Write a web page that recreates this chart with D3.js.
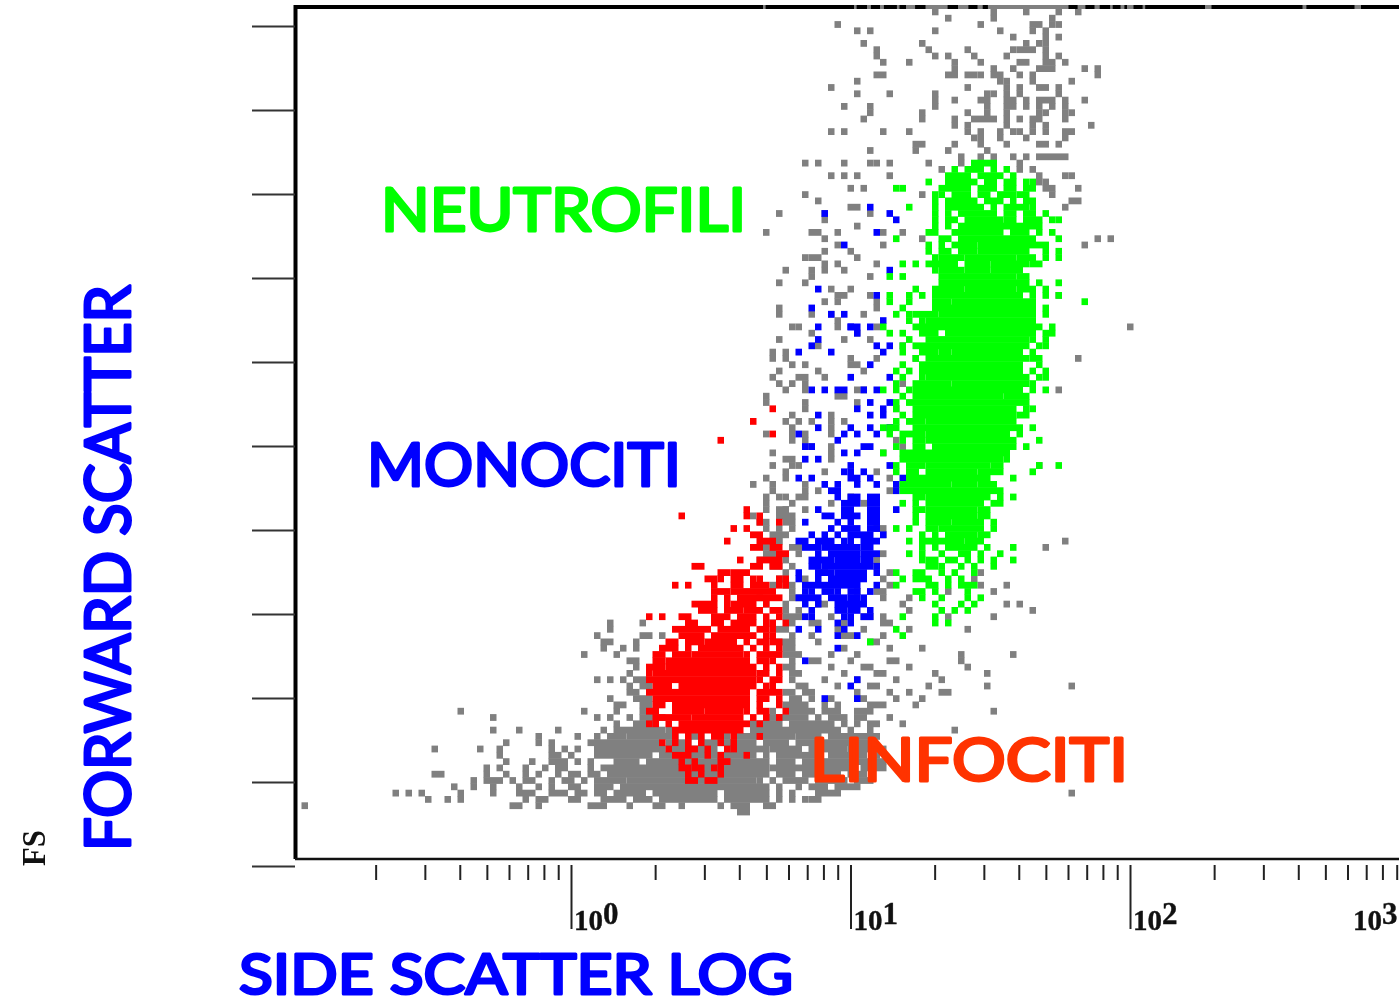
<!DOCTYPE html>
<html>
<head>
<meta charset="utf-8">
<title>Forward scatter / side scatter</title>
<script src="https://d3js.org/d3.v7.min.js"></script>
<style>
  html, body { margin: 0; padding: 0; background: #fff; }
  svg { display: block; filter: blur(0.5px); }
</style>
</head>
<body>
<svg id="plot" width="1399" height="1006"></svg>
<script>
// Events, per FS channel row:
// [fsChannel, ssChannel, ssChannel, [ssFrom, ssTo], ...]
var grayRows = [
  [134,98,107,112,117,120],[133,100,107,116],[132,83,105,[113,114],116,117],[131,86,88,98,108,113,115],
  [130,110,115,117],[129,87,96,112,114,115],[128,89,97,103,110,[111,113],115],[127,89,98,100,104,109,115,117],
  [126,90,94,101,105,[111,112],[115,116],118],[125,101,107,110,[114,116],121,123],[124,[89,90],[100,101],103,104,105,107,108,111,113,123],
  [123,86,108,109,113,119],[122,82,103,109,111,[114,115],117],[121,86,91,98,106,107,109,111,117],
  [120,98,101,[105,106],[109,110],112,[114,115],116,118,121],[119,84,88,98,106,[109,110],112,114,116,118],
  [118,88,96,103,106,109,114,115,118,119],[117,87,96,101,[104,107],109,111,113,114,118],[116,101,103,109,113,115,122],
  [115,82,84,90,94,103,105,108,110,111,113,115,[118,119]],[114,104,105,108,112,118],[113,95,96,101,105,109,[114,115],117],
  [112,88,95,100,106],[111,102,105,107,110,112,[114,115],[116,117],118],[110,78,80,84,88,89,91,97,102,111],
  [109,99,111,113],[108,82,84,86,91,114,118,119],[107,114,115],[106,85,87,115,116,120],[105,78,96,116],
  [104,80,119,120],[103,85,86,118],[102,74,81,88],[101,81],[100,86],[99,72,79,80,83,90,93],[98,81,96,123,125],
  [97,83,90,121],[96,81,85],[95,78,80,86,79],[94,81,83,89],[93,75,79,81,84],[92,79,88],[91,74,78],[90,82,85],
  [89,83,84,88,117],[88,81,83,89],[87,74,89],[86,74,79,82,87],[85,83],[84,76,77,83,89,128],[83,86,79],[82,74,84,88],
  [81,80,93],[80,73,75],[79,73,75,85,89,95,120],[78,76,78,85,86],[77,74,80,87],[76,73,[77,78],81],[75,74,76,93,78],
  [74,75,78,86,87,117],[73,83,84,72],[72,72,78,86],[71,78,92],[70,76,82],[69,75,77,79,82,84],[68,76,82,91],
  [67,72,76,78,82],[66,76,78,92],[65,78,79,82,93],[64,73,82,90],[63,76,82,75],[62,73,76,77,114],[61,81,89,75],
  [60,75,91,72],[59,73,78,70],[58,73,78,80,91],[57,74,75,[77,78],85,72],[56,72,76,82,87],[55,72,75,78,[74,75]],
  [54,[74,76],70,85],[53,[75,76],[71,72],89],[52,74,76,[89,90],72],[51,[74,75],73,90],[50,74,[73,74],118],
  [49,73,[76,77],115,72],[48,[72,73],77,90],[47,75,71,89],[46,[73,74],89,76],[45,75,[80,81],91,105],
  [44,[74,75],78,90,104],[43,[75,76],91,109,105,73],[42,76,86,[89,90],107,100],[41,[76,77],94,90,71],
  [40,75,[80,81],93,109,111,72],[39,77,113,75,94],[38,[75,77],82,[87,88],90,100,107],[37,48,53,73,76,[79,80],84,[90,91]],
  [36,48,[74,75],83,87,94,103],[35,46,53,54,56,76,79,[84,85],90],[34,47,48,52,[74,76],80,[88,89]],[33,47,50,52,[75,76],84,91,96],
  [32,44,49,[75,77],82,86,102,110],[31,[51,52],76,[79,80],85,[91,92],102],[30,52,[75,76],82,[87,88],94,103],
  [29,51,[76,77],84,[89,90],98,106],[28,46,48,50,[52,53],76,81,86,92,99],[27,51,[53,54],[77,78],83,[88,89],97,119,106],
  [26,[51,52],[75,76],[78,79],86,91,94,[99,100]],[25,48,[52,54],[76,77],79,82,[86,87],92,96],[24,49,50,[53,54],[75,78],81,83,[88,90],95],
  [23,25,44,49,[53,55],73,[76,79],[81,83],[86,88],107],[22,30,46,48,51,[53,56],[72,75],[76,78],80,[82,84],[86,87],91],
  [21,49,[52,55],[70,74],[76,82],84,86,[88,89],93],[20,30,34,40,47,49,[50,56],57,[70,75],[76,83],85,88,101],
  [19,37,43,46,[48,50],51,[52,58],[60,62],66,[68,76],[77,80],[82,89]],[18,32,37,39,[45,47],[48,55],[57,60],[62,70],[72,75],[77,88]],
  [17,21,28,31,39,41,43,[46,49],[50,56],[57,64],[66,72],[73,77],[79,84],[85,90]],[16,31,[39,40],42,[46,54],[56,70],72,[74,80],[82,87],89],
  [15,32,36,[39,41],43,45,[49,52],[54,72],[74,76],[78,85],[86,90]],[14,29,31,35,38,[40,41],45,[47,55],[56,72],[73,79],[81,85],[87,90]],
  [13,21,22,29,32,35,37,40,[42,43],[45,46],[48,49],[50,55],[56,72],[74,76],[78,83],[85,87]],[12,27,[29,31],33,[35,36],39,[41,42],44,[46,50],[51,70],71,73,[75,78],[80,84],[86,88]],
  [11,24,27,30,34,37,39,[42,43],[46,48],[50,53],[54,71],72,74,77,[79,81],[83,86]],[10,15,17,19,25,30,[34,36],[39,41],[43,44],[46,47],[49,53],[55,64],[66,72],74,76,[80,83],119],
  [9,20,23,25,35,37,38,[42,43],[47,50],[52,54],[56,64],[66,72],74,76,78,[79,80]],[8,1,33,34,37,[45,47],51,[55,56],59,65,[67,69],[72,73]],[7,[68,69]]
];
// gray overflow events sitting on the top edge of the frame
var topEdgeRuns = [[72,72.4],[86,86.4],[88,88.6],[90,90.6],[92.6,93],[94,95.4],[97,100.4],[102,103.6],[105,105.8],[106.6,119],[120.4,121.6],[123,123.8],[125.4,125.8],[127,127.6],[128,129],[130.4,130.8],[140,141],[155,155.6],[163,164]];

var redRows = [
  [71,73],[69,70],[67,73],[66,65],[55,69],[54,59,69,71],[53,71,74],[52,67,69],[51,[70,71]],[50,66,[71,73]],[49,[70,71],[73,74]],
  [48,[74,75]],[47,68,[71,74]],[46,[61,62],[70,71],73,74],[45,[67,69],65,66],[44,[63,64],65,[67,68],70,71,74,75],[43,58,60,64,[67,68],[70,72],74,75],
  [42,[64,66],[67,69],[70,71],[72,73]],[41,64,66,[68,71],[72,74]],[40,61,[62,64],66,[67,69],70,72],[39,[62,64],[66,68],[69,71],73,74],
  [38,60,[64,66],[68,70],72,74,54,56,59],[37,[60,61],[64,65],[67,70],72,73,75],[36,[58,59],[60,63],[65,67],[68,69],71,72,73],
  [35,[59,62],[64,65],[66,70],72,73],[34,[57,58],[60,62],[63,67],69,71,72,73,74],[33,[56,58],60,[62,65],[66,68],70,72,74],
  [32,[55,56],[58,60],[61,68],69,71,[72,74]],[31,[55,56],[57,59],[60,63],[64,69],71,72,73],[30,[54,56],[57,70],72,74],
  [29,54,[55,57],[58,70],[71,72],74],[28,[54,55],[56,70],71,73,74],[27,55,[56,57],59,[60,70],72,73],[26,[54,57],[58,69],[71,73],74],
  [25,[55,69],71,72,74],[24,55,56,[58,60],[60,69],71,74],[23,[54,55],[58,59],[60,62],[63,68],69,71,72,75],[22,[55,57],[58,60],[61,68],70,72,74],
  [21,54,55,57,[59,65],[66,69],71],[20,[58,59],[60,61],[62,68]],[19,58,60,62,[64,65],67,71],[18,56,58,60,62,65,67],
  [17,57,[60,61],63,66,67],[16,[58,59],60,63,65,69],[15,59,61,[65,66]],[14,[59,60],[61,62],64,65],[13,60,62,65],[12,[60,61],[63,64]]
];

var blueRows = [
  [103,88],[102,81,91],[101,92],[99,89],[97,84],[93,91],[90,80],[89,89],[87,79],[86,84,82],[85,90],[84,85,[85,86],88,80],[83,86],[82,80],[81,79,89,91],
  [80,77,82,90],[78,88],[76,85,91],[74,79,81,83,84,87,89],[72,91,88],[71,90,86],[70,80,88,90],[68,80,85,88,91],[67,77,84,89,86],[66,83],
  [65,78,79,87,88],[64,84,86],[63,78,80],[62,85,91],[61,84,85,87],[60,77,79,[85,86],88,93],[59,81,86,83,89,92],[58,[82,83],92],
  [57,83,[85,86],[88,89]],[56,[84,86],[88,89]],[55,80,[84,85],[88,89],92],[54,[81,82],[84,86],[88,89]],[53,78,83,85,[88,89]],[52,82,[84,86],[88,89]],
  [51,79,81,83,85,[86,88],90],[50,[77,78],[80,82],84,85,[87,89]],[49,[78,80],[81,83],[84,86],[87,88]],[48,80,[82,83],[84,86],[87,89]],
  [47,79,[80,81],82,[83,86],87,88],[46,79,80,[81,85],[86,88],89],[45,77,[80,82],[83,87],89],[44,77,80,[82,85],[86,87]],[43,[78,79],[80,81],[82,83],[84,86],89],
  [42,78,79,[81,82],83,[85,86],88],[41,77,[78,80],[82,84],85,86,87],[40,78,80,[83,85],[86,87]],[39,79,[83,84],[85,86],88],[38,78,79,84,85,87,88],
  [37,83,85],[36,77,80,84],[35,83,86],[33,83],[31,78],[28,86],[27,85],[25,81,86]
];

var greenRows = [
  [110,[104,107]],[109,101,[103,105],107,109],[108,[100,103],[105,107],108,110],[107,97,[100,104],[106,107],[109,110],112,113],
  [106,92,93,[99,103],[105,107],[109,110],[112,113]],[105,98,99,[101,103],[105,106],[108,110],[111,112]],[104,98,[100,104],[106,108],110,[112,113]],
  [103,94,98,[100,105],107,[109,111],112,113],[102,98,100,[102,107],[109,110],[112,113],115],[101,98,[100,101],[103,108],[109,110],[112,114],116,117],
  [100,98,100,[102,113],114],[99,97,98,[101,105],[106,108],[110,112],114,116],[98,92,[99,100],[102,107],[108,113],117],[97,97,99,[101,104],[105,115]],
  [96,97,[99,100],[102,104],[105,111],112,115,117],[95,98,[99,102],[103,105],[106,110],[111,113],115,117],[94,93,95,[97,101],[103,106],107,[108,112],[113,114]],
  [93,98,[99,102],[103,106],[107,111]],[92,91,93,[99,103],[104,110],[111,112]],[91,[99,101],[102,105],[106,112],114,117],[90,95,[98,102],[103,110],111,[112,113],115],
  [89,91,94,96,[98,111],113,115,117],[88,91,94,[98,100],[101,113],121],[87,93,[98,113],115],[86,92,94,95,[96,98],[99,113],115],[85,94,96,[97,113]],[84,90,95,[96,99],[100,114],116],
  [83,91,93,[96,98],[100,109],[110,113],115,116],[82,94,[97,99],[100,112],113,115],[81,93,95,[96,112],114,115],[80,93,[96,98],[99,100],[101,111],113],
  [79,95,[97,112],113,114],[78,93,[96,111],114],[77,92,94,[96,101],[102,111],113,115],[76,93,96,[97,111],112,114,115],[75,92,[95,100],[101,112],113],
  [74,90,92,94,[95,111],113,115],[73,93,[95,108],[109,111],112],[72,92,[94,97],[98,112]],[71,92,[95,110],112,113],[70,93,[95,110],[111,112]],
  [69,92,[94,96],[97,110]],[68,90,91,92,[95,109],[110,111],113],[67,91,[93,96],[97,109],111],[66,93,[95,96],[97,110],114],[65,92,[95,96],[98,110],112],
  [64,90,[93,99],[100,107],[108,109]],[63,93,[94,95],[96,108],109],[62,92,[94,96],[97,106],[107,108],114,117],[61,92,[94,95],[97,104],[105,108],113],
  [60,[94,97],[98,106],110],[59,93,[94,100],[101,104],[105,107]],[58,[93,105],[106,108]],[57,[95,96],[97,106],108,110],[56,93,95,97,[98,105],[107,108]],
  [55,95,96,[97,101],[102,104],[105,106]],[54,95,[97,104],[105,106]],[53,95,97,[98,100],[101,103],[104,105],107],[52,92,94,[97,98],[99,105],107],
  [51,96,98,[100,104],[105,106]],[50,94,[96,97],[98,102],[103,105]],[49,96,98,[100,103],104,106,110],[48,94,96,99,[102,103],105,108],
  [47,96,[97,98],[100,101],103,105,107,110],[46,97,98,99,102,104,107],[45,92,[95,96],99,101,104],[44,93,95,[96,97],100,102],
  [43,92,97,98,100,[102,104]],[42,95,96,98,103],[41,96,99,103,105],[40,98,102,104],[39,99,101,103],[38,93,98],[37,98,100],[36,92],[35,93],[34,88]
];

// labels
var fsTicks = [0,100,200,300,400,500,600,700,800,900,1000];
var decades = [1,10,100];
var decadeExponents = ["0","1","2"];
var minorTicks = [0.2,0.3,0.4,0.5,0.6,0.7,0.8,0.9,2,3,4,5,6,7,8,9,20,30,40,50,60,70,80,90,200,300,400,500,600,700,800,900];

var svg = d3.select("#plot");
var W = 1399;
var left = 295, top_ = 7, bottom = 859;

// channel scales for the dot plot
var ssScale = d3.scaleLinear().domain([0,171]).range([left, left + 171*6.5]);
var fsScale = d3.scaleLinear().domain([0,135]).range([bottom, bottom - 135*6.3]);
// printed axes
var xLog = d3.scaleLog().domain([0.1,1000]).range([291.5,1409.5]);
var yAxisScale = d3.scaleLinear().domain([0,1000]).range([866,26]);

function cells(rows, color) {
  var list = [];
  rows.forEach(function(row){
    row.slice(1).forEach(function(c){
      var from = Array.isArray(c) ? c[0] : c;
      var to = Array.isArray(c) ? c[1] : c;
      list.push({r: row[0], from: from, to: to + 1});
    });
  });
  var g = svg.append("g").attr("class","cells").attr("fill",color);
  g.selectAll("rect").data(list).enter().append("rect")
    .attr("x", function(d){ return ssScale(d.from); })
    .attr("y", function(d){ return fsScale(d.r + 1); })
    .attr("width", function(d){ return ssScale(d.to) - ssScale(d.from); })
    // a little taller so neighbouring rows close up
    .attr("height", function(d){ return fsScale(d.r) - fsScale(d.r + 1) + 0.5; });
}

cells(grayRows, "#808080");
cells(redRows, "#ff0000");
cells(blueRows, "#0000ff");
cells(greenRows, "#00ff00");

// frame
svg.append("path").attr("d", "M"+(left+0.5)+","+bottom+"V"+top_+"H"+W)
  .attr("fill","none").attr("stroke","#000").attr("stroke-width",4);
svg.append("line").attr("x1",left).attr("x2",W).attr("y1",bottom).attr("y2",bottom)
  .attr("stroke","#111").attr("stroke-width",2.5);
svg.append("g").selectAll("rect").data(topEdgeRuns).enter().append("rect")
  .attr("x", function(d){ return ssScale(d[0]); })
  .attr("width", function(d){ return ssScale(d[1]) - ssScale(d[0]); })
  .attr("y", top_ - 2).attr("height", 4).attr("fill","#808080");

// FS axis
var yAxis = d3.axisLeft(yAxisScale).tickValues(fsTicks).tickSize(43).tickFormat("");
svg.append("g").attr("transform","translate("+left+",0)").call(yAxis)
  .call(function(g){ g.select(".domain").remove(); })
  .selectAll("line").attr("stroke","#333").attr("stroke-width",2);

// SS axis, minor then decade marks
var xMinor = d3.axisBottom(xLog).tickValues(minorTicks).tickSize(15).tickFormat("");
svg.append("g").attr("transform","translate(0,865)").call(xMinor)
  .call(function(g){ g.select(".domain").remove(); })
  .selectAll("line").attr("stroke","#222").attr("stroke-width",2);
var xMajor = d3.axisBottom(xLog).tickValues(decades).tickSize(64).tickFormat("");
svg.append("g").attr("transform","translate(0,865)").call(xMajor)
  .call(function(g){ g.select(".domain").remove(); })
  .selectAll("line").attr("stroke","#222").attr("stroke-width",2);

function decadeLabel(x, exp) {
  var t = svg.append("text").attr("x",x).attr("y",930)
    .attr("font-family","'Liberation Serif', serif").attr("font-weight","bold")
    .attr("font-size",29).attr("fill","#111")
    .attr("stroke","#111").attr("stroke-width",0.4);
  t.append("tspan").text("10");
  t.append("tspan").attr("dy",-6).attr("font-size",31).text(exp);
}
decades.forEach(function(d,i){ decadeLabel(xLog(d) + 3, decadeExponents[i]); });
decadeLabel(1353, "3");

// captions
var captionFont = "'Comic Sans MS', Lato, sans-serif";
function caption(text, x, y, len, size, color, rotate) {
  var t = svg.append("text").text(text)
    .attr("font-family",captionFont).attr("font-size",size)
    .attr("fill",color).attr("stroke",color).attr("stroke-width",3)
    .attr("stroke-linejoin","round").attr("stroke-linecap","round")
    .attr("textLength",len).attr("lengthAdjust","spacingAndGlyphs");
  if (rotate) t.attr("transform","translate("+x+","+y+") rotate(-90)");
  else t.attr("x",x).attr("y",y);
}
caption("NEUTROFILI",381,231,365,60,"#00ff00");
caption("MONOCITI",367,486,314,60,"#0000ff");
caption("LINFOCITI",810,781,318,60,"#ff3300");
caption("SIDE SCATTER LOG",239,994,554,56,"#0000ff");
caption("FORWARD SCATTER",130,851,566,62,"#0000ff",true);

svg.append("text").text("FS")
  .attr("transform","translate(45,866) rotate(-90)")
  .attr("font-family","'Liberation Serif', serif").attr("font-weight","bold")
  .attr("font-size",34).attr("fill","#111")
  .attr("textLength",36).attr("lengthAdjust","spacingAndGlyphs");
</script>
</body>
</html>
